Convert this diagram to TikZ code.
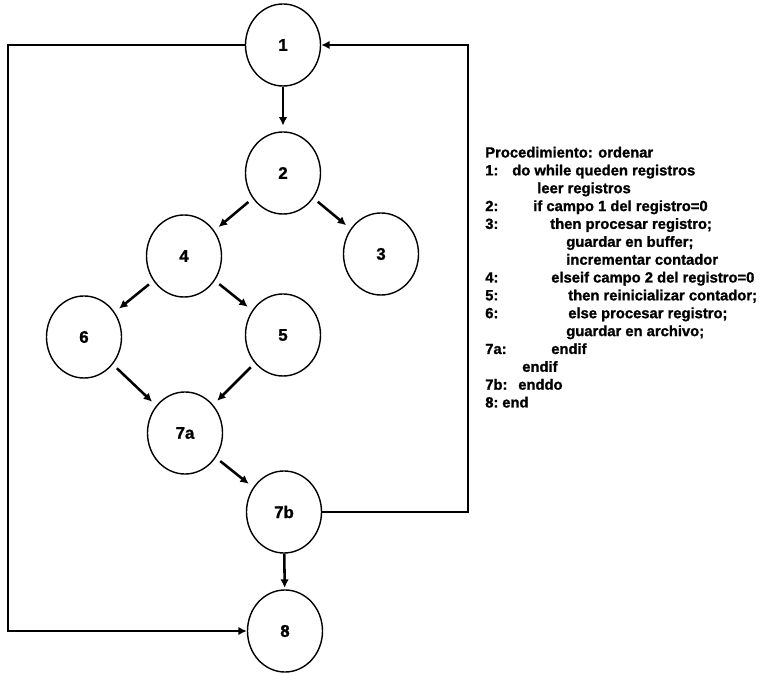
\documentclass[tikz,border=0pt]{standalone}
\usepackage{fontspec}
\setmainfont[BoldFeatures={FakeBold=1.2}]{Liberation Sans}
\usetikzlibrary{arrows.meta,shapes.geometric}

\tikzset{
  nodo/.style={draw, ellipse, line width=1pt, inner sep=0pt,
    minimum width=1.875cm, minimum height=2.05cm,
    font=\fontsize{12}{14}\selectfont\bfseries},
  flecha/.style={line width=1.8pt, -{Latex[length=6pt,width=6pt]},
    shorten >=4pt, shorten <=4pt},
  lazo/.style={line width=1.4pt, -{Latex[length=6pt,width=6pt]}},
  codigo/.style={anchor=base west, inner sep=0pt,
    font=\fontsize{10.5}{12}\selectfont\bfseries}
}

\begin{document}
\begin{tikzpicture}[x=0.025cm, y=-0.025cm]
  \useasboundingbox (0,0) rectangle (782,674);

  % flow graph nodes
  \node[nodo] (n1) at (283,45) {1};
  \node[nodo] (n2) at (283,173) {2};
  \node[nodo] (n4) at (184,256) {4};
  \node[nodo] (n3) at (381,254) {3};
  \node[nodo] (n6) at (84,337) {6};
  \node[nodo] (n5) at (283,335) {5};
  \node[nodo] (n7a) at (185,433) {7a};
  \node[nodo] (n7b) at (284,512) {7b};
  \node[nodo] (n8) at (285,631) {8};

  % edges
  \draw[flecha, shorten <=0pt] (n1) -- (n2);
  \draw[flecha] (n2) -- (n4);
  \draw[flecha] (n2) -- (n3);
  \draw[flecha] (n4) -- (n6);
  \draw[flecha] (n4) -- (n5);
  \draw[flecha] (n6) -- (n7a);
  \draw[flecha] (n5) -- (n7a);
  \draw[flecha] (n7a) -- (n7b);
  \draw[flecha, shorten <=0pt, shorten >=1pt] (n7b) -- (n8);

  % loop back and exit
  \coordinate (izq) at (8,340);
  \coordinate (der) at (468,280);
  \draw[lazo] (n1.west) -| (izq) |- (n8.west);
  \draw[lazo] (n7b.east) -| (der) |- (n1.east);

  % pseudocode
  \node[codigo] (titulo) at (485,157.5) {Procedimiento: ordenar};

  \node[codigo] (e1) at (485,175.4) {1:};
  \node[codigo] (c1) at (512,175.4) {do while queden registros};
  \node[codigo] (c1b) at (537,193.2) {leer registros};
  \node[codigo] (e2) at (485,211.1) {2:};
  \node[codigo] (c2) at (533,211.1) {if campo 1 del registro=0};
  \node[codigo] (e3) at (485,228.9) {3:};
  \node[codigo] (c3) at (550,228.9) {then procesar registro;};
  \node[codigo] (c3b) at (566,246.8) {guardar en buffer;};
  \node[codigo] (c3c) at (566,264.7) {incrementar contador};
  \node[codigo] (e4) at (485,282.5) {4:};
  \node[codigo] (c4) at (551,282.5) {elseif campo 2 del registro=0};
  \node[codigo] (e5) at (485,300.4) {5:};
  \node[codigo] (c5) at (568,300.4) {then reinicializar contador;};
  \node[codigo] (e6) at (485,318.2) {6:};
  \node[codigo] (c6) at (568,318.2) {else procesar registro;};
  \node[codigo] (c6b) at (566,336.1) {guardar en archivo;};
  \node[codigo] (e7a) at (485,354) {7a:};
  \node[codigo] (c7a) at (551,354) {endif};
  \node[codigo] (c7ab) at (522,371.8) {endif};
  \node[codigo] (e7b) at (485,389.7) {7b:};
  \node[codigo] (c7b) at (518,389.7) {enddo};
  \node[codigo] (e8) at (485,407.5) {8:};
  \node[codigo] (c8) at (502,407.5) {end};
\end{tikzpicture}
\end{document}
